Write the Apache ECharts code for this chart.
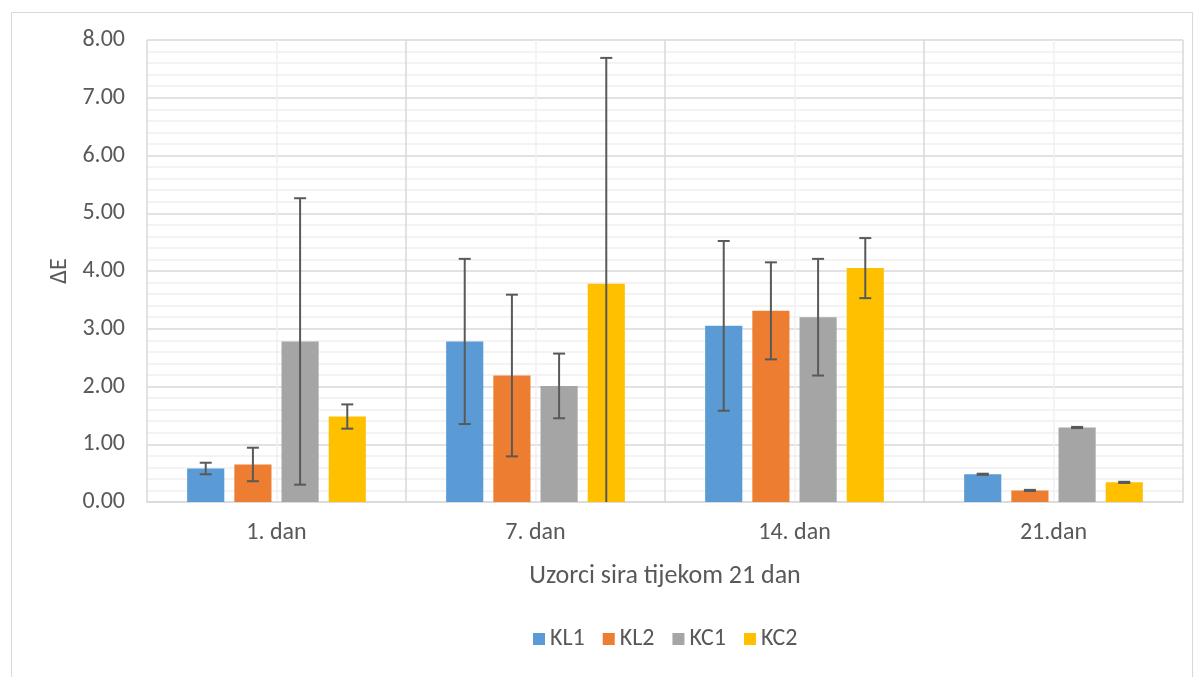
<!DOCTYPE html>
<html><head><meta charset="utf-8">
<script src="https://cdn.jsdelivr.net/npm/echarts@6/dist/echarts.min.js"></script>
<style>html,body{margin:0;padding:0;background:#fff}#c{width:1200px;height:677px}</style>
</head><body><div id="c"></div>
<script>
var categories = ['1. dan', '7. dan', '14. dan', '21.dan'];
var seriesNames = ['KL1', 'KL2', 'KC1', 'KC2'];
var KL1 = [0.58, 2.78, 3.05, 0.48];
var KL2 = [0.65, 2.19, 3.31, 0.20];
var KC1 = [2.78, 2.01, 3.20, 1.29];
var KC2 = [1.48, 3.78, 4.05, 0.34];
var KL1err = [0.10, 1.43, 1.47, 0.01];
var KL2err = [0.29, 1.40, 0.84, 0.01];
var KC1err = [2.48, 0.56, 1.01, 0.01];
var KC2err = [0.21, 3.91, 0.52, 0.01];
var yTicks = [0, 1, 2, 3, 4, 5, 6, 7, 8];

var values = [KL1, KL2, KC1, KC2];
var errs = [KL1err, KL2err, KC1err, KC2err];
var colors = ['#5B9BD5', '#ED7D31', '#A5A5A5', '#FFC000'];
var FONT = 'Carlito, Calibri, Lato, "Liberation Sans", sans-serif';
var CAT_GAP = 0.31, BAR_GAP = 0.27, N = 4;

var chart = echarts.init(document.getElementById('c'));
var series = [];
values.forEach(function (v, i) {
  series.push({
    name: seriesNames[i], type: 'bar', data: v, xAxisIndex: 0, yAxisIndex: 0,
    barCategoryGap: (CAT_GAP * 100) + '%', barGap: (BAR_GAP * 100) + '%',
    itemStyle: { color: colors[i] }, z: 2
  });
});
values.forEach(function (v, i) {
  series.push({
    type: 'custom', xAxisIndex: 0, yAxisIndex: 0, z: 5, silent: true,
    data: v.map(function (m, k) { return [k, m, errs[i][k]]; }),
    renderItem: function (params, api) {
      var idx = api.value(0), m = api.value(1), e = api.value(2);
      var catW = api.size([1, 0])[0];
      var w = catW * (1 - CAT_GAP) / (N + (N - 1) * BAR_GAP);
      var groupW = w * N + w * BAR_GAP * (N - 1);
      var c = api.coord([idx, m]);
      var x = c[0] - groupW / 2 + i * w * (1 + BAR_GAP) + w / 2;
      var lo = m - e, clamped = false;
      if (lo < 0) { lo = 0; clamped = true; }
      var yT = api.coord([idx, m + e])[1];
      var yB = api.coord([idx, lo])[1];
      var cap = 6;
      var st = { stroke: '#595959', lineWidth: 2 };
      var kids = [
        { type: 'line', shape: { x1: x, y1: yT, x2: x, y2: yB }, style: st },
        { type: 'line', shape: { x1: x - cap, y1: yT, x2: x + cap, y2: yT }, style: st }
      ];
      if (!clamped) kids.push({ type: 'line', shape: { x1: x - cap, y1: yB, x2: x + cap, y2: yB }, style: st });
      return { type: 'group', children: kids };
    }
  });
});

chart.setOption({
  animation: false,
  backgroundColor: '#fff',
  textStyle: { fontFamily: FONT },
  graphic: [{ type: 'rect', left: 9, top: 10, shape: { width: 1181, height: 700 },
    style: { fill: 'none', stroke: '#d9d9d9', lineWidth: 1 }, silent: true, z: -10 }],
  grid: { left: 147, right: 17, top: 40, bottom: 175 },
  legend: {
    data: seriesNames, top: 622, left: 528, itemWidth: 12, itemHeight: 12, itemGap: 18,
    icon: 'rect', textStyle: { fontSize: 24, color: '#595959', fontFamily: FONT }
  },
  xAxis: [{
    type: 'category', data: categories, position: 'bottom',
    axisLine: { lineStyle: { color: '#d9d9d9', width: 1.5 } }, axisTick: { show: false },
    axisLabel: { fontSize: 24, color: '#595959', margin: 19, fontFamily: FONT },
    splitLine: { show: false },
    name: 'Uzorci sira tijekom 21 dan', nameLocation: 'middle', nameGap: 61,
    nameTextStyle: { fontSize: 26, color: '#595959', fontFamily: FONT }
  }, {
    type: 'value', min: 0, max: 4, interval: 0.5, show: true, position: 'bottom',
    axisLine: { show: false }, axisTick: { show: false }, axisLabel: { show: false },
    splitLine: { show: true, lineStyle: { color: ['#d9d9d9', '#f0f0f0'], width: 1.5 } }
  }],
  yAxis: [{
    type: 'value', min: 0, max: 8, interval: 1,
    axisLine: { show: false }, axisTick: { show: false },
    axisLabel: { fontSize: 24, color: '#595959', margin: 22, fontFamily: FONT,
      formatter: function (v) { return yTicks.indexOf(v) >= 0 ? v.toFixed(2) : ''; } },
    splitLine: { lineStyle: { color: '#d9d9d9', width: 1.5 } },
    minorTick: { show: false, splitNumber: 5 },
    minorSplitLine: { show: true, lineStyle: { color: '#f0f0f0', width: 1.5 } },
    name: 'ΔE', nameLocation: 'middle', nameGap: 72, nameRotate: 90,
    nameTextStyle: { fontSize: 24, color: '#595959', fontFamily: FONT }
  }],
  series: series
});
</script></body></html>
